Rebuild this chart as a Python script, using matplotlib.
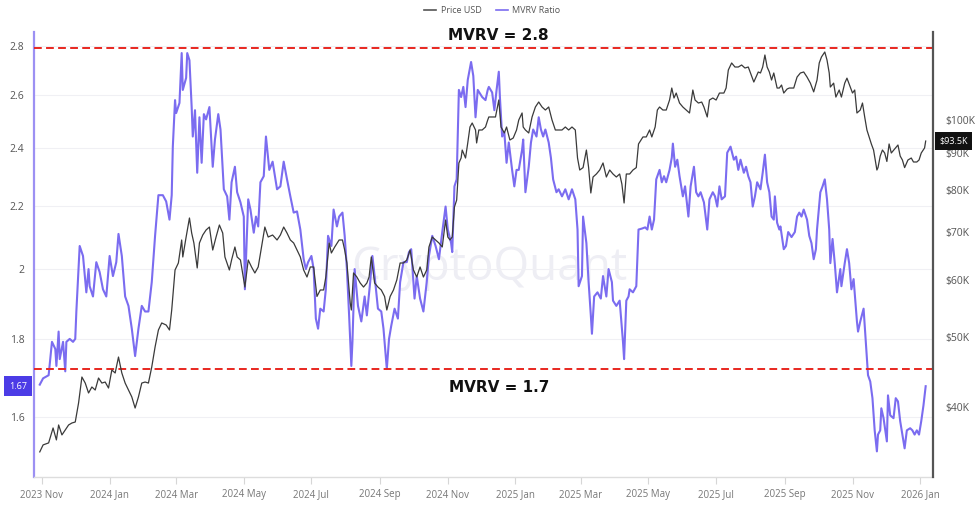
import matplotlib
matplotlib.use("Agg")
import matplotlib.pyplot as plt
import matplotlib.dates as mdates
import matplotlib.transforms as mtransforms
from matplotlib.ticker import FixedLocator, FixedFormatter, NullLocator, NullFormatter
from matplotlib.lines import Line2D
import pandas as pd

# ---------------- data (days counted from BASE_DATE) ----------------
BASE_DATE = "2023-11-01"

mvrv_days = [
    -2, 1, 6, 9, 12, 13, 15, 16, 19, 21, 22, 25, 28, 30, 31, 34, 37, 40, 42, 43, 46, 49, 52, 55, 58,
    61, 64, 67, 69, 72, 75, 78, 81, 84, 87, 90, 93, 96, 99, 102, 105, 109, 112, 115, 117, 118, 120,
    121, 124, 126, 127, 130, 131, 133,
    135, 136, 138, 140, 142, 144, 146, 148, 151, 154, 156, 159, 161, 164, 167, 169, 171, 174, 176,
    179, 182, 183, 186, 188, 191, 193, 195, 197, 200, 202, 205, 208, 212, 215, 218, 221, 224, 227,
    230, 233, 236, 238, 240, 243, 245, 247, 249, 251, 254, 256, 258, 261, 263, 266, 268,
    271, 273, 275, 277, 279, 280, 282, 285, 288, 291, 293, 296, 298, 300, 303, 306, 308, 311, 313,
    315, 318, 321, 323, 326, 329, 331, 333, 336, 338, 341, 344, 347, 349, 352, 355, 358, 361, 364,
    366, 369, 370, 372, 374, 376, 378, 380, 382, 384, 387, 389, 391, 393, 397, 400, 402, 403,
    406, 408, 410, 412, 413, 415, 417, 419, 421, 424, 426, 428, 430, 433, 434, 436, 439, 441, 443,
    446, 448, 450, 452, 454, 457, 459, 461, 464, 466, 469, 472, 475, 478, 481, 483, 484, 487, 488,
    491, 493, 495, 496, 498, 501, 504, 506, 509, 511, 514, 515, 518, 521, 524, 525, 527, 529, 530,
    533, 536, 538,
    541, 544, 546, 548, 550, 552, 554, 557, 559, 561, 563, 566, 568, 569, 571, 573, 575, 578, 580,
    583, 585, 588, 590, 592, 594, 597, 600, 602, 605, 607, 609, 611, 613, 616, 618, 621, 624, 626,
    628, 630, 633, 635, 637, 639, 641, 643, 645, 648, 650, 652, 654, 656, 658, 660, 661, 663, 665,
    666, 669, 671, 673,
    676, 679, 681, 683, 685, 687, 690, 692, 694, 696, 698, 699, 702, 704, 706, 708, 710, 711, 713,
    715, 717, 720, 721, 724, 726, 728, 730, 732, 735, 736, 738, 741, 743, 745, 747, 749, 751, 753,
    754, 756, 757, 759, 762, 763, 765, 768, 770, 772, 774, 776, 778, 780, 783, 785, 787, 789, 791,
    793, 795, 797,
]
mvrv_ratio = [
    1.679, 1.695, 1.703, 1.791, 1.772, 1.727, 1.819, 1.745, 1.791, 1.713, 1.791, 1.799, 1.791, 1.799,
    1.875, 2.070, 2.039, 1.930, 1.999, 1.948, 1.918, 2.020, 1.990, 1.939, 1.918, 2.039, 1.978, 2.020,
    2.108, 2.039, 1.918, 1.891, 1.827, 1.753, 1.827, 1.891, 1.875, 1.875, 1.960, 2.102, 2.235, 2.235,
    2.214, 2.154, 2.235, 2.405, 2.580, 2.530, 2.569, 2.770, 2.620, 2.668, 2.770, 2.740,
    2.553, 2.442, 2.541, 2.312, 2.514, 2.347, 2.526, 2.506, 2.553, 2.333, 2.431, 2.526, 2.468, 2.255,
    2.231, 2.154, 2.279, 2.333, 2.245, 2.211, 2.164, 1.939, 2.221, 2.187, 2.112, 2.164, 2.132, 2.279,
    2.300, 2.442, 2.322, 2.351, 2.255, 2.265, 2.351, 2.289, 2.231, 2.177, 2.181, 2.122, 2.029, 1.999,
    2.020, 2.039, 1.999, 1.855, 1.827, 1.883, 1.875, 1.939, 2.102, 2.070, 2.187, 2.132, 2.164,
    2.177, 2.102, 1.999, 1.864, 1.727, 1.791, 1.999, 1.891, 1.847, 1.918, 1.864, 1.960, 2.039, 1.978,
    1.883, 1.875, 1.827, 1.719, 1.799, 1.835, 1.883, 1.855, 1.960, 2.020, 2.020, 2.051, 2.060, 1.912,
    1.978, 1.912, 1.875, 1.960, 2.039, 2.102, 2.070, 2.029, 2.114, 2.197, 2.122, 2.079, 2.051, 2.265,
    2.289, 2.620, 2.592, 2.632, 2.553, 2.660, 2.733, 2.676, 2.514, 2.620, 2.592, 2.580, 2.620, 2.632,
    2.610, 2.541, 2.620, 2.693, 2.592, 2.442, 2.457, 2.347, 2.420, 2.322, 2.265, 2.322, 2.322, 2.394,
    2.431, 2.245, 2.333, 2.420, 2.468, 2.442, 2.514, 2.468, 2.442, 2.468, 2.420, 2.365, 2.289, 2.245,
    2.255, 2.231, 2.255, 2.221, 2.255, 2.221, 2.122, 1.948, 1.978, 2.164, 2.079, 1.960, 1.864, 1.813,
    1.918, 1.930, 1.912, 1.978, 1.918, 1.999, 1.960, 1.906, 1.891, 1.906, 1.791, 1.745, 1.906, 1.918,
    1.939, 1.930, 1.948, 2.122,
    2.125, 2.129, 2.122, 2.164, 2.122, 2.154, 2.289, 2.322, 2.279, 2.300, 2.279, 2.322, 2.365, 2.416,
    2.333, 2.358, 2.300, 2.231, 2.265, 2.164, 2.265, 2.333, 2.245, 2.231, 2.245, 2.211, 2.122, 2.221,
    2.245, 2.231, 2.197, 2.265, 2.221, 2.231, 2.383, 2.405, 2.358, 2.369, 2.322, 2.358, 2.312, 2.333,
    2.300, 2.279, 2.197, 2.231, 2.279, 2.255, 2.312, 2.376, 2.279, 2.245, 2.164, 2.154, 2.231, 2.144,
    2.122, 2.132, 2.060, 2.070, 2.114,
    2.098, 2.114, 2.164, 2.177, 2.164, 2.187, 2.154, 2.102, 2.079, 2.029, 2.060, 2.122, 2.245, 2.265,
    2.289, 2.221, 2.122, 2.017, 2.092, 2.017, 1.930, 1.999, 1.948, 2.017, 2.060, 2.017, 1.939, 1.969,
    1.847, 1.819, 1.847, 1.883, 1.791, 1.703, 1.687, 1.645, 1.567, 1.518, 1.557, 1.567, 1.620, 1.596,
    1.541, 1.652, 1.603, 1.596, 1.645, 1.637, 1.589, 1.557, 1.525, 1.567, 1.572, 1.567, 1.557, 1.567,
    1.557, 1.589, 1.627, 1.675,
]

price_days = [
    -2, 1, 6, 10, 13, 15, 18, 21, 24, 27, 30, 33, 36, 39, 42, 45, 48, 51, 54, 57, 60, 63, 66, 69, 72,
    75, 78, 81, 84, 87, 90, 93, 96, 99, 102, 105, 108, 112, 115, 117, 120, 123, 126, 127, 130, 133,
    135, 137, 140, 142, 145, 148, 151, 154, 157, 160, 163, 165, 169, 171, 174, 176, 179, 183, 186,
    189, 192, 195, 198, 201, 204, 208, 212, 215, 218, 221, 224, 227, 230, 233, 236, 239, 242, 245,
    248, 251, 254, 256, 259, 261, 264, 268,
    271, 273, 275, 278, 279, 281, 284, 287, 290, 293, 295, 297, 300, 303, 306, 309, 311, 314, 317,
    320, 323, 326, 329, 332, 335, 338, 341, 344, 347, 349, 352, 355, 358, 361, 364, 366, 368, 370,
    372, 374, 376, 378, 379, 382, 384, 386, 388, 391, 392, 394, 397, 400, 402, 403,
    406, 409, 412, 414, 417, 419, 422, 425, 428, 430, 433, 434, 436, 439, 442, 445, 448, 451, 454,
    457, 460, 463, 466, 469, 472, 475, 478, 481, 483, 485, 488, 491, 493, 495, 497, 500, 503, 506,
    509, 512, 515, 518, 521, 523, 525, 527, 530, 533, 536, 538,
    542, 545, 548, 550, 553, 555, 557, 560, 563, 566, 568, 570, 572, 575, 578, 581, 584, 587, 589,
    592, 595, 597, 600, 602, 605, 608, 611, 615, 617, 619, 622, 625, 628, 631, 634, 637, 639, 642,
    644, 646, 648, 650, 652, 654, 656, 658, 660, 663, 665, 667, 669, 672, 674,
    678, 681, 684, 687, 690, 693, 696, 699, 701, 703, 706, 708, 710, 711, 714, 716, 719, 721, 724,
    726, 729, 731, 733, 735, 738, 740, 742, 744, 746, 748, 750, 753, 754, 756, 758, 760, 762, 764,
    766, 769, 772, 774, 776, 778, 781, 784, 786, 789, 791, 793, 796, 797,
]
price_usd_k = [
    34.65, 35.43, 35.66, 37.40, 36.00, 37.76, 36.58, 37.16, 37.76, 38.00, 38.12, 40.51, 44.01, 43.17,
    41.82, 42.63, 42.22, 43.87, 43.17, 43.31, 42.49, 45.01, 44.58, 46.91, 44.58, 43.17, 42.22, 41.30,
    39.86, 41.30, 43.17, 43.31, 43.17, 45.44, 48.44, 51.14, 52.30, 51.96, 51.14, 54.51, 61.94, 63.34,
    68.17, 64.57, 68.82, 73.13,
    69.70, 67.52, 62.34, 67.52, 69.26, 70.38, 71.05, 66.02, 68.82, 71.51, 69.70, 64.57, 61.94, 63.95,
    66.66, 64.57, 63.95, 58.66, 63.95, 62.54, 61.35, 62.54, 66.66, 71.05, 68.82, 69.26, 68.17, 69.26,
    71.05, 69.70, 68.17, 67.52, 66.02, 64.57, 61.94, 60.57, 62.54, 62.54, 56.92, 58.11, 58.11, 60.57,
    67.52, 65.40, 66.66, 68.17,
    68.17, 66.02, 63.34, 55.74, 54.51, 61.35, 60.57, 59.42, 58.66, 59.42, 60.57, 64.57, 59.42, 58.66,
    58.11, 56.92, 54.51, 56.92, 58.11, 59.99, 63.34, 63.34, 63.95, 66.02, 61.94, 60.57, 62.54, 60.57,
    61.94, 66.66, 68.82, 68.17, 67.52, 66.66, 72.66, 68.82, 68.17, 68.82, 75.75, 77.45, 87.18, 88.57,
    90.86, 88.57, 92.93, 97.79, 99.05, 96.86, 92.93, 96.86, 96.86, 97.79, 100.00, 100.97,
    100.97, 100.97, 106.59, 97.79, 95.94, 97.79, 93.81, 94.41, 96.86, 100.00, 102.27, 97.79, 96.86,
    95.94, 100.97, 104.24, 105.92, 104.24, 103.24, 104.24, 100.00, 96.86, 96.86, 96.86, 97.79, 96.86,
    97.79, 96.86, 88.57, 85.24, 85.90, 90.86, 85.90, 79.21, 83.36, 84.16, 85.24, 87.18, 83.36, 85.24,
    84.16, 83.36, 84.16, 81.50, 76.72, 84.16, 84.16, 85.24, 85.90, 92.63,
    94.73, 94.73, 96.86, 94.73, 97.79, 103.24, 104.24, 103.24, 103.24, 106.59, 110.75, 107.28, 108.99,
    105.57, 104.24, 103.24, 102.26, 110.05, 106.59, 105.57, 105.90, 104.24, 100.97, 106.59, 107.28,
    106.59, 108.99, 108.99, 110.75, 117.31, 119.97, 118.44, 118.44, 119.20, 118.06, 118.44, 116.20,
    112.90, 114.70, 116.57, 116.20, 118.44, 123.07, 118.44, 116.57, 113.62, 116.20, 110.75, 110.75,
    111.82, 108.99, 110.40, 110.75,
    110.75, 114.70, 116.20, 116.57, 114.70, 112.50, 109.40, 113.62, 119.97, 122.29, 124.26, 121.12,
    116.20, 111.10, 112.50, 107.60, 110.05, 107.60, 112.50, 114.30, 111.10, 109.00, 110.05, 102.26,
    103.24, 105.57, 100.97, 96.86, 94.73, 92.63, 90.86, 85.24, 85.90, 89.13, 90.86, 90.00, 87.60,
    92.63, 90.00, 91.15, 92.33, 89.13, 88.01, 85.90, 88.01, 88.57, 87.45, 87.45, 88.01, 90.00, 91.46,
    93.50,
]

mvrv_ticks = [1.6, 1.8, 2.0, 2.2, 2.4, 2.6, 2.8]
mvrv_tick_labels = ["1.6", "1.8", "2", "2.2", "2.4", "2.6", "2.8"]
price_ticks_k = [40, 50, 60, 70, 80, 90, 100]
price_tick_labels = ["$40K", "$50K", "$60K", "$70K", "$80K", "$90K", "$100K"]
threshold_levels = [2.79, 1.72]
threshold_labels = ["MVRV = 2.8", "MVRV = 1.7"]
series_names = ["Price USD", "MVRV Ratio"]
last_price_label = "$93.5K"
last_mvrv_label = "1.67"
watermark = "CryptoQuant"

# ---------------- build ----------------
base = pd.Timestamp(BASE_DATE)
mvrv_dates = base + pd.to_timedelta(mvrv_days, unit="D")
price_dates = base + pd.to_timedelta(price_days, unit="D")

plt.rcParams["font.family"] = ["Open Sans", "DejaVu Sans"]

MVRV_COLOR = "#7b6cf0"
PRICE_COLOR = "#3a3a3a"

W, H = 975, 507
fig = plt.figure(figsize=(W / 100, H / 100), dpi=100)
L, R, T, B = 34, 933, 32, 477
ax = fig.add_axes([L / W, 1 - B / H, (R - L) / W, (B - T) / H])
ax2 = ax.twinx()

# x range
ax.set_xlim(base + pd.Timedelta(days=-7.2), base + pd.Timedelta(days=803.6))

# MVRV (left, log)
ax.set_yscale("log")
ax.set_ylim(1.4604, 2.8595)
ax.yaxis.set_major_locator(FixedLocator(mvrv_ticks))
ax.yaxis.set_major_formatter(FixedFormatter(mvrv_tick_labels))
ax.yaxis.set_minor_locator(NullLocator())
ax.yaxis.set_minor_formatter(NullFormatter())
ax.grid(axis="y", color="#f0f0f4", lw=0.8)
ax.set_axisbelow(True)

# price (right, log)
ax2.set_yscale("log")
ax2.set_ylim(31.98, 132.45)
ax2.yaxis.set_major_locator(FixedLocator(price_ticks_k))
ax2.yaxis.set_major_formatter(FixedFormatter(price_tick_labels))
ax2.yaxis.set_minor_locator(NullLocator())
ax2.yaxis.set_minor_formatter(NullFormatter())

# watermark
ax.text(0.507, 0.47, watermark, transform=ax.transAxes, fontsize=33,
        color="#eeeef4", ha="center", va="center", zorder=0)

ax.plot(mvrv_dates, mvrv_ratio, color=MVRV_COLOR, lw=1.5, zorder=2)
ax2.plot(price_dates, price_usd_k, color=PRICE_COLOR, lw=0.9, zorder=3)

# threshold lines
blend = mtransforms.blended_transform_factory(ax.transAxes, ax.transData)
for lvl, lab, off in zip(threshold_levels, threshold_labels, [9.5, -13.5]):
    ax.axhline(lvl, color="#e8271f", lw=1.4, ls=(0, (4, 2.2)), zorder=4)
    ax.annotate(lab, xy=(0.517, lvl), xycoords=blend, xytext=(0, off),
                textcoords="offset points", ha="center", va="center",
                fontsize=11, fontweight="bold", color="#111111",
                family=["DejaVu Sans"])

# x axis
ax.xaxis.set_major_locator(mdates.MonthLocator(bymonth=[1, 3, 5, 7, 9, 11]))
ax.xaxis.set_major_formatter(mdates.DateFormatter("%Y %b"))
ax.tick_params(axis="x", length=5, width=0.8, color="#d6d6d6", labelsize=7,
               labelcolor="#777777", pad=4)
ax.tick_params(axis="y", length=0, pad=7, labelsize=7.5, labelcolor="#555555")
ax2.tick_params(axis="y", length=0, pad=9, labelsize=7.5, labelcolor="#555555")

# spines
for s in ["top", "right"]:
    ax.spines[s].set_visible(False)
for s in ["top", "left", "bottom"]:
    ax2.spines[s].set_visible(False)
ax.spines["left"].set_color("#9c90f3")
ax.spines["left"].set_linewidth(1.6)
ax.spines["bottom"].set_color("#dddddd")
ax.spines["bottom"].set_linewidth(1.0)
ax2.spines["right"].set_color("#555555")
ax2.spines["right"].set_linewidth(1.6)

# last-value labels
blend2 = mtransforms.blended_transform_factory(ax2.transAxes, ax2.transData)
ax2.annotate(last_price_label, xy=(1.0, price_usd_k[-1]), xycoords=blend2,
             xytext=(4.5, 0), textcoords="offset points", ha="left", va="center",
             fontsize=6.5, color="white",
             bbox=dict(boxstyle="square,pad=0.45", fc="#111111", ec="none"), zorder=10,
             annotation_clip=False)
ax.annotate(last_mvrv_label, xy=(0.0, mvrv_ratio[-1]), xycoords=blend,
            xytext=(-5, 0), textcoords="offset points", ha="right", va="center",
            fontsize=6.5, color="white",
            bbox=dict(boxstyle="square,pad=0.6", fc="#4c3ce6", ec="none"), zorder=10,
            annotation_clip=False)

# legend
handles = [Line2D([], [], color="#555555", lw=1.2), Line2D([], [], color=MVRV_COLOR, lw=1.2)]
fig.legend(handles, series_names, loc="upper center", bbox_to_anchor=(0.505, 1.0),
           ncol=2, frameon=False, fontsize=6.5, handlelength=1.3, columnspacing=1.6,
           labelcolor="#555555", handletextpad=0.5, borderpad=0.15)

fig.savefig("out.png", dpi=100)
